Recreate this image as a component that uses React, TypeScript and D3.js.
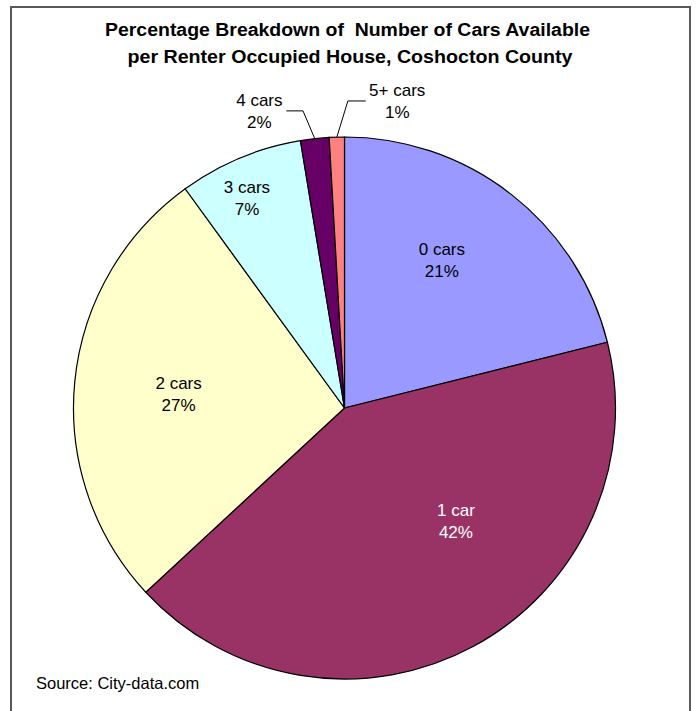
import * as d3 from "d3";

const categories = ["0 cars", "1 car", "2 cars", "3 cars", "4 cars", "5+ cars"];
const shares = [21.1, 42.0, 26.9, 7.4, 1.7, 0.9];
const percentLabels = ["21%", "42%", "27%", "7%", "2%", "1%"];
const colors = ["#9999FF", "#993366", "#FFFFCC", "#CCFFFF", "#660066", "#FF8080"];
const titleLines = [
  "Percentage Breakdown of  Number of Cars Available",
  "per Renter Occupied House, Coshocton County",
];

// label placement relative to each slice: angle shift (deg) from its mid angle, radius ratio
const labelPlacement = [
  { shift: -5, ratio: 0.66, leader: null, fill: "#000" },
  { shift: -16.7, ratio: 0.58, leader: null, fill: "#fff" },
  { shift: 0, ratio: 0.615, leader: null, fill: "#000" },
  { shift: -2, ratio: 0.862, leader: null, fill: "#000" },
  { shift: -9.6, ratio: 1.147, leader: { shift: -1.65, ratio: 1.107 }, fill: "#000" },
  { shift: 11.3, ratio: 1.157, leader: { shift: 2.25, ratio: 1.133 }, fill: "#000" },
];

function App() {
  const width = 696;
  const height = 711;
  const cx = 344.5;
  const cy = 408;
  const r = 271;

  const pie = d3
    .pie<number>()
    .sort(null)
    .value((d) => d)
    .startAngle(0)
    .endAngle(2 * Math.PI);
  const arcs = pie(shares);
  const arc = d3.arc<d3.PieArcDatum<number>>().innerRadius(0).outerRadius(r);

  const rad = (deg: number) => (deg * Math.PI) / 180;
  const polar = (a: number, dist: number): [number, number] => [
    Math.sin(a) * dist,
    -Math.cos(a) * dist,
  ];

  return (
    <svg
      width={width}
      height={height}
      style={{ position: "absolute", left: 0, top: 0 }}
      fontFamily="Liberation Sans, Arial, sans-serif"
    >
      <rect x={0} y={0} width={width} height={height} fill="#fff" />
      <rect
        x={11}
        y={7}
        width={679}
        height={740}
        fill="#fff"
        stroke="#595959"
        strokeWidth={2}
      />
      <g textAnchor="middle" fontWeight="bold" fontSize={17.5} fill="#000">
        <text
          x={347.5}
          y={36}
          textLength={485}
          lengthAdjust="spacingAndGlyphs"
          style={{ whiteSpace: "pre" }}
        >
          {titleLines[0]}
        </text>
        <text x={350} y={63} textLength={445} lengthAdjust="spacingAndGlyphs">
          {titleLines[1]}
        </text>
      </g>
      <g transform={`translate(${cx},${cy})`}>
        {arcs.map((a, i) => (
          <path
            key={i}
            d={arc(a) ?? ""}
            fill={colors[i]}
            stroke="#000"
            strokeWidth={1.2}
          />
        ))}
        {arcs.map((a, i) => {
          const p = labelPlacement[i];
          const mid = (a.startAngle + a.endAngle) / 2;
          const [lx, ly] = polar(mid + rad(p.shift), r * p.ratio);
          let leader = null;
          if (p.leader) {
            const [ex, ey] = polar(mid, r);
            const [bx, by] = polar(mid + rad(p.leader.shift), r * p.leader.ratio);
            const half = categories[i].length * 4.5;
            const hx = lx < bx ? lx + half : lx - half;
            leader = (
              <polyline
                points={`${hx},${by} ${bx},${by} ${ex},${ey}`}
                fill="none"
                stroke="#000"
                strokeWidth={1}
              />
            );
          }
          return (
            <g key={i}>
              {leader}
              <text x={lx} y={ly - 3} textAnchor="middle" fontSize={17} fill={p.fill}>
                {categories[i]}
              </text>
              <text x={lx} y={ly + 19} textAnchor="middle" fontSize={17} fill={p.fill}>
                {percentLabels[i]}
              </text>
            </g>
          );
        })}
      </g>
      <text x={36} y={689} fontSize={16.5} fill="#000">
        Source: City-data.com
      </text>
    </svg>
  );
}

export default App;
